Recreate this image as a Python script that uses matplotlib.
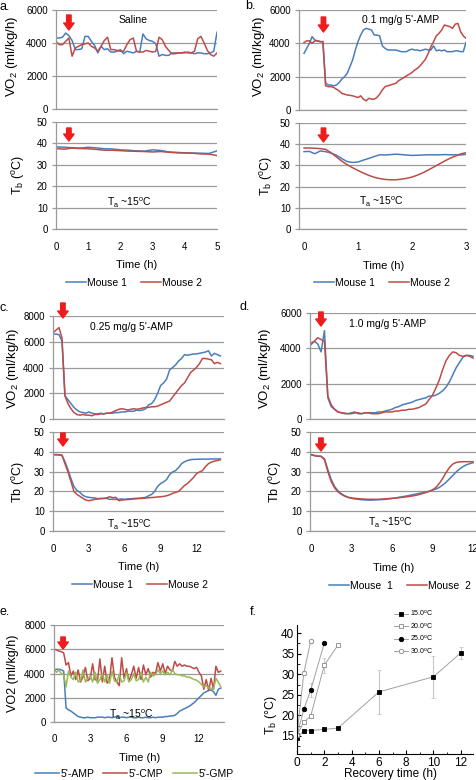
"""Five Excel-style VO2 / Tb traces plus recovery curves (panel f)"""
import numpy as np
import matplotlib
matplotlib.use('Agg')
import matplotlib.pyplot as plt

plt.rcParams['font.family'] = ['Liberation Sans', 'DejaVu Sans']
plt.rcParams['mathtext.default'] = 'regular'

# ---- data ----
# panel a, saline, 0-5 h
a_vo2_m1 = [4300, 4300, 4350, 4600, 4450, 4150, 3600, 3600, 3650, 4400,
            4400, 4100, 3850, 3400, 3800, 3600, 3650, 3450, 3450, 3500,
            3600, 3350, 3500, 3450, 3400, 3500, 3450, 4550, 4250, 4150,
            4100, 3950, 3200, 3300, 3250, 3250, 3400, 3400, 3400, 3400,
            3400, 3450, 3400, 3350, 3400, 3400, 3350, 3350, 3400, 3500, 4650]
a_vo2_m2 = [4100, 3900, 3900, 4100, 4300, 3200, 3700, 3800, 3900, 3950,
            4000, 3800, 3700, 3500, 3800, 4150, 4350, 3600, 3600, 3550,
            3500, 3500, 3900, 4200, 4300, 3500, 3450, 3450, 3550, 3500,
            3450, 3500, 4350, 4200, 3800, 3550, 3350, 3350, 3400, 3400,
            3450, 3400, 3400, 3500, 4250, 4400, 4000, 3550, 3300, 3200, 3400]
a_tb_m1 = [38.4, 38.2, 38.0, 37.8, 38.2, 37.9, 37.5, 37.4, 37.0, 36.8, 36.5,
           36.4, 37.0, 36.7, 36.0, 35.8, 35.6, 35.5, 35.4, 35.3, 36.5]
a_tb_m2 = [37.6, 37.3, 37.8, 37.6, 37.5, 37.2, 36.8, 36.8, 36.6, 36.4, 36.3,
           36.2, 36.0, 36.2, 35.9, 35.6, 35.5, 35.4, 35.1, 35.0, 34.3]

# panel b, 0.1 mg/g, 0-3 h
b_vo2_m1 = [3400, 3700, 4000, 4400, 4200, 4150, 4100, 4100, 1600, 1500,
            1500, 1450, 1500, 1650, 1850, 2000, 2200, 2600, 3000, 3600,
            4100, 4500, 4800, 4900, 4850, 4800, 4500, 4500, 4450, 3850,
            3700, 3600, 3600, 3600, 3600, 3550, 3500, 3500, 3500, 3600,
            3650, 3600, 3600, 3550, 3600, 3650, 3600, 3600, 3850, 3550,
            3600, 3550, 3600, 3500, 3500, 3500, 3550, 3550, 3500, 3500, 4050]
b_vo2_m2 = [4050, 4150, 4150, 4000, 4150, 4150, 4100, 4100, 1450, 1400,
            1400, 1350, 1250, 1150, 1000, 950, 900, 880, 850, 800,
            750, 850, 650, 550, 700, 650, 650, 750, 950, 1200,
            1400, 1450, 1500, 1550, 1600, 1750, 1850, 1950, 2050, 2150,
            2250, 2400, 2500, 2650, 2850, 3050, 3400, 3800, 4100, 4450,
            4600, 4800, 5100, 5050, 5000, 4900, 5150, 5200, 4700, 4450, 4300]
b_tb_m1 = [36.5, 36.6, 35.5, 36.8, 36.5, 35.8, 34.8, 33.2, 31.8, 31.4, 31.6,
           32.5, 33.3, 34.2, 35.0, 34.9, 35.1, 35.3, 35.1, 34.9, 34.7,
           34.8, 34.9, 35.0, 35.0, 35.0, 35.1, 35.0, 35.0, 34.9, 35.2]
b_tb_m2 = [38.2, 38.2, 38.1, 37.9, 37.6, 36.0, 34.0, 32.0, 30.3, 28.9, 27.6,
           26.4, 25.3, 24.4, 23.8, 23.4, 23.2, 23.2, 23.5, 23.9, 24.5,
           25.4, 26.5, 27.8, 29.2, 30.6, 32.0, 33.3, 34.4, 35.4, 36.0]

# panel c, 0.25 mg/g, 0-14 h
c_vo2_m1 = [6600, 6600, 6550, 6050, 1800, 1500, 1200, 900, 700, 550,
            500, 450, 550, 450, 400, 400, 450, 400, 450, 450,
            450, 500, 500, 550, 550, 600, 600, 600, 700, 650,
            700, 800, 1100, 1200, 1500, 2000, 2600, 2800, 3100, 3800,
            4000, 4200, 4500, 4700, 5000, 4950, 5000, 5050, 5050, 5100,
            5150, 5200, 5300, 4900, 5100, 5000, 4900]
c_vo2_m2 = [6700, 6900, 7100, 6300, 1800, 1200, 800, 500, 350, 300,
            350, 300, 300, 250, 350, 350, 400, 400, 450, 450,
            550, 650, 750, 800, 750, 700, 750, 800, 750, 800,
            850, 900, 900, 950, 950, 1000, 1100, 1200, 1300, 1400,
            1700, 2000, 2300, 2600, 2800, 3200, 3600, 3800, 4000, 4300,
            4700, 4700, 4650, 4600, 4300, 4400, 4300]
c_tb_m1 = [38.5, 38.5, 38.4, 38.2, 35.0, 31.0, 26.5, 22.5, 20.5, 19.5,
           18.0, 17.3, 17.0, 16.8, 16.7, 16.3, 16.5, 16.5, 16.4, 16.0,
           16.0, 16.0, 16.0, 16.2, 16.0, 16.2, 16.3, 16.4, 16.5, 16.6,
           16.8, 17.0, 17.8, 18.5, 20.0, 22.5, 24.0, 24.8, 26.0, 28.5,
           29.8, 30.5, 32.0, 34.0, 35.0, 35.6, 36.0, 36.2, 36.2, 36.3,
           36.3, 36.3, 36.3, 36.4, 36.4, 36.4, 36.4]
c_tb_m2 = [38.6, 38.6, 38.5, 38.3, 34.0, 30.0, 25.0, 20.0, 18.5, 17.5,
           16.5, 15.6, 15.3, 15.6, 16.0, 16.2, 16.3, 16.4, 16.8, 17.3,
           16.8, 17.0, 15.3, 15.6, 15.8, 15.9, 16.0, 16.2, 16.3, 16.4,
           16.5, 16.6, 16.8, 16.9, 17.0, 17.2, 17.3, 17.5, 17.8, 18.3,
           19.0, 19.5, 20.0, 21.5, 23.0, 24.0, 25.5, 27.0, 29.0, 29.8,
           30.5, 32.5, 34.0, 34.8, 35.3, 35.6, 36.0]

# panel d, 1.0 mg/g, 0-12 h
d_vo2_m1 = [4200, 4400, 4250, 3800, 5000, 1200, 700, 550, 400, 350,
            300, 300, 350, 400, 300, 300, 350, 350, 350, 350,
            400, 400, 450, 500, 550, 650, 700, 800, 850, 900,
            950, 1050, 1100, 1150, 1200, 1300, 1300, 1350, 1450, 1600,
            1800, 2100, 2500, 2900, 3200, 3500, 3600, 3600, 3550]
d_vo2_m2 = [4300, 4400, 4600, 4500, 4400, 1300, 800, 550, 400, 350,
            330, 300, 300, 350, 350, 300, 350, 350, 300, 300,
            300, 350, 400, 400, 400, 450, 450, 500, 500, 550,
            550, 600, 650, 750, 850, 1100, 1350, 1750, 2200, 2800,
            3300, 3600, 3800, 3750, 3600, 3550, 3600, 3550, 3450]
d_tb_m1 = [38.5, 38.0, 37.8, 37.6, 36.5, 31.0, 26.0, 22.5, 20.3, 18.8,
           17.8, 17.0, 16.5, 16.2, 16.0, 15.8, 15.7, 15.6, 15.6, 15.7,
           15.8, 15.9, 16.0, 16.2, 16.4, 16.7, 17.0, 17.3, 17.6, 17.9,
           18.3, 18.6, 19.0, 19.3, 19.7, 20.1, 20.6, 21.2, 22.0, 23.2,
           24.6, 26.3, 28.0, 29.8, 31.3, 32.5, 33.4, 34.0, 34.5]
d_tb_m2 = [38.6, 38.2, 37.8, 37.8, 36.0, 30.0, 25.0, 21.8, 19.8, 18.5,
           17.6, 17.0, 16.7, 16.5, 16.3, 16.2, 16.1, 16.0, 16.0, 16.0,
           16.0, 16.1, 16.2, 16.4, 16.5, 16.6, 16.8, 17.0, 17.2, 17.4,
           17.7, 18.0, 18.4, 18.9, 19.4, 20.0, 20.8, 22.0, 24.0, 26.5,
           29.5, 32.0, 33.8, 34.6, 34.9, 35.0, 35.0, 35.0, 35.0]

# panel e, nucleotides, 0-13.8 h
e_amp = [4300, 4350, 4350, 4300, 4200, 1150, 1000, 900, 750, 600,
         450, 400, 350, 350, 400, 350, 350, 350, 400, 400,
         400, 350, 400, 400, 350, 400, 450, 350, 400, 400,
         350, 400, 400, 350, 350, 400, 350, 350, 400, 350,
         350, 400, 350, 400, 400, 400, 450, 450, 500, 500,
         550, 700, 900, 1000, 1100, 1200, 1300, 1450, 1600, 1800,
         2000, 2200, 2400, 2500, 2600, 2650, 2500, 2200, 2700, 2800]
e_cmp = [6000, 5950, 5850, 5800, 5700, 4700, 4900, 3800, 4200, 3500,
         4300, 3300, 3700, 4500, 3400, 3600, 4800, 3500, 3400, 5200,
         3300, 4600, 3200, 3500, 5300, 3700, 3300, 3000, 5300, 3600,
         4400, 3400, 3900, 4600, 3600, 4500, 3500, 4700, 3900, 4400,
         3700, 4100, 4000, 4900, 4200, 4800, 4000, 4600, 4300, 4200,
         5000, 4600, 4800, 4600, 4700, 4600, 4600, 4500, 4400, 4500,
         4100, 3800, 2700, 3500, 2600, 3600, 2700, 4600, 4100, 4200]
e_gmp = [4400, 4100, 4300, 4000, 3900, 2900, 4200, 3700, 3500, 4100,
         3300, 3400, 4300, 3300, 3600, 3800, 3300, 4100, 3200, 3500,
         4000, 3300, 3900, 3200, 4200, 3400, 3300, 3900, 3300, 3400,
         4100, 3300, 3500, 4000, 3400, 3500, 4100, 3300, 3700, 3300,
         4100, 3800, 3900, 4300, 4000, 4200, 3900, 4100, 3900, 4300,
         4000, 3900, 3900, 3800, 3800, 3700, 3700, 3600, 3500, 3450,
         3300, 3100, 2900, 3000, 2800, 2800, 2700, 3600, 3300, 2900]

# sampling steps (h) and injection times (h)
step_a_vo2, step_a_tb = 0.1, 0.25
step_b_vo2, step_b_tb = 0.05, 0.1
step_cd, step_e = 0.25, 0.2
inj = {'a': 0.4, 'b': 0.36, 'c': 0.83, 'd': 0.74, 'e': 0.75}

# panel f, recovery after 5'-AMP at different ambient temperatures
f_labels = ['15.0$^o$C', '20.0$^o$C', '25.0$^o$C', '30.0$^o$C']
f_time = [[0, 0.5, 1, 2, 3, 6, 10, 12],
          [0, 0.5, 1, 2, 3],
          [0, 0.5, 1, 2],
          [0, 0.5, 1]]
f_tb = [[14.4, 16.3, 16.3, 16.6, 16.9, 25.7, 29.4, 35.2],
        [15.2, 18.4, 19.8, 32.2, 37.1],
        [15.2, 21.5, 26.1, 37.6],
        [15.2, 30.3, 38.0]]
f_err = [[0.8, 0.3, 0.3, 0.3, 0.3, 5.4, 5.1, 1.5],
         [0.3, 0.4, 0.5, 1.8, 0.3],
         [0.3, 0.4, 1.7, 0.3],
         [0.3, 0.5, 0.3]]

# ---- layout helpers (pixel coordinates of the 477x780 target) ----
W, H = 477, 780
fig = plt.figure(figsize=(W/100, H/100), dpi=100)


def box(x0, y0, x1, y1):
    return [x0/W, 1 - y1/H, (x1 - x0)/W, (y1 - y0)/H]


def ftext(x, y, s, **kw):
    kw.setdefault('ha', 'center')
    kw.setdefault('va', 'center')
    return fig.text(x/W, 1 - y/H, s, **kw)


BLUE, RED, GREEN = '#4a7ebb', '#be4b48', '#98b954'
GRID = '#9a9a9a'
TICK = 7


def excel_axes(rect, xlim, ylim, yticks, xticks=None):
    ax = fig.add_axes(rect)
    ax.set_xlim(*xlim)
    ax.set_ylim(*ylim)
    ax.set_yticks(yticks)
    for s in ('top', 'right'):
        ax.spines[s].set_visible(False)
    for s in ('left', 'bottom'):
        ax.spines[s].set_color(GRID)
        ax.spines[s].set_linewidth(0.9)
    ax.yaxis.grid(True, color=GRID, lw=0.9)
    ax.set_axisbelow(True)
    ax.tick_params(axis='y', length=3, width=0.9, color=GRID,
                   labelsize=TICK, pad=3)
    if xticks is None:
        ax.set_xticks([])
    else:
        ax.set_xticks(xticks)
        ax.tick_params(axis='x', length=0, labelsize=TICK, pad=9)
    return ax


def tvec(vals, step):
    return step * np.arange(len(vals))


def arrow(ax, t, y_tip, y_top):
    # y in figure pixels -> axes fraction
    bb = ax.get_position()
    f0 = ((1 - y_tip/H) - bb.y0) / bb.height
    f1 = ((1 - y_top/H) - bb.y0) / bb.height
    ax.annotate('', xy=(t, f0), xytext=(t, f1),
                xycoords=('data', 'axes fraction'),
                textcoords=('data', 'axes fraction'),
                arrowprops=dict(arrowstyle='simple,head_length=0.5,'
                                'head_width=0.75,tail_width=0.32',
                                color='#ee1c1c', mutation_scale=10,
                                shrinkA=0, shrinkB=0),
                annotation_clip=False)


def mouse_legend(ax, cx, cy):
    ax.legend(loc='center', bbox_to_anchor=(cx/W, 1 - cy/H),
              bbox_transform=fig.transFigure, ncol=2, frameon=False,
              fontsize=7.5, handlelength=1.9, handletextpad=0.15,
              columnspacing=1.3, borderpad=0)


LW = 1.1
VO2_LBL = 'VO$_2$ (ml/kg/h)'
TB_LBL = 'T$_b$ ($^o$C)'
TA = 'T$_a$ ~15$^o$C'

# ---- panel a ----
ax = excel_axes(box(56, 10, 217, 109), (0, 5), (0, 6000), [0, 2000, 4000, 6000])
ax.plot(tvec(a_vo2_m1, step_a_vo2), a_vo2_m1, color=BLUE, lw=LW)
ax.plot(tvec(a_vo2_m2, step_a_vo2), a_vo2_m2, color=RED, lw=LW)
arrow(ax, inj['a'], 30, 15)
ax = excel_axes(box(56, 122, 217, 229), (0, 5), (0, 50), range(0, 51, 10),
                xticks=range(0, 6))
ax.plot(tvec(a_tb_m1, step_a_tb), a_tb_m1, color=BLUE, lw=LW, label='Mouse 1')
ax.plot(tvec(a_tb_m2, step_a_tb), a_tb_m2, color=RED, lw=LW, label='Mouse 2')
arrow(ax, inj['a'], 141, 128)
mouse_legend(ax, 134, 283)
ftext(0, 7, 'a.', ha='left', fontsize=9)
ftext(133, 20, 'Saline', fontsize=7.5)
ftext(129, 203, TA, fontsize=7.5)
ftext(12, 56, VO2_LBL, rotation=90, fontsize=9.5)
ftext(19, 175, TB_LBL, rotation=90, fontsize=9)
ftext(137, 265, 'Time (h)', fontsize=8)

# ---- panel b ----
ax = excel_axes(box(299, 10, 466, 110), (-0.093, 3.0), (0, 6000),
                [0, 2000, 4000, 6000])
ax.plot(tvec(b_vo2_m1, step_b_vo2), b_vo2_m1, color=BLUE, lw=LW)
ax.plot(tvec(b_vo2_m2, step_b_vo2), b_vo2_m2, color=RED, lw=LW)
arrow(ax, inj['b'], 32, 17)
ax = excel_axes(box(299, 123, 466, 229), (-0.093, 3.0), (0, 50),
                range(0, 51, 10), xticks=range(0, 4))
ax.plot(tvec(b_tb_m1, step_b_tb), b_tb_m1, color=BLUE, lw=LW, label='Mouse 1')
ax.plot(tvec(b_tb_m2, step_b_tb), b_tb_m2, color=RED, lw=LW, label='Mouse 2')
arrow(ax, inj['b'], 142, 128)
mouse_legend(ax, 382, 283)
ftext(245, 6, 'b.', ha='left', fontsize=9)
ftext(401, 20, "0.1 mg/g 5'-AMP", fontsize=7.5)
ftext(381, 202, TA, fontsize=7.5)
ftext(259, 56, VO2_LBL, rotation=90, fontsize=9.5)
ftext(267, 176, TB_LBL, rotation=90, fontsize=9)
ftext(384, 266, 'Time (h)', fontsize=8)

# ---- panel c ----
ax = excel_axes(box(53, 316, 224, 419), (0, 14.3), (0, 8000),
                range(0, 8001, 2000))
ax.plot(tvec(c_vo2_m1, step_cd), c_vo2_m1, color=BLUE, lw=LW)
ax.plot(tvec(c_vo2_m2, step_cd), c_vo2_m2, color=RED, lw=LW)
arrow(ax, inj['c'], 318, 303)
ax = excel_axes(box(53, 432, 224, 531), (0, 14.3), (0, 50), range(0, 51, 10),
                xticks=range(0, 13, 3))
ax.plot(tvec(c_tb_m1, step_cd), c_tb_m1, color=BLUE, lw=LW, label='Mouse 1')
ax.plot(tvec(c_tb_m2, step_cd), c_tb_m2, color=RED, lw=LW, label='Mouse 2')
arrow(ax, inj['c'], 446, 433)
mouse_legend(ax, 140, 585)
ftext(0, 308, 'c.', ha='left', fontsize=9)
ftext(131, 327, "0.25 mg/g 5'-AMP", fontsize=7.5)
ftext(129, 525, TA, fontsize=7.5)
ftext(13, 368, VO2_LBL, rotation=90, fontsize=9.5)
ftext(19, 482, 'Tb ($^o$C)', rotation=90, fontsize=9)
ftext(139, 567, 'Time (h)', fontsize=8)

# ---- panel d ----
ax = excel_axes(box(310, 313, 476, 419), (-0.07, 12.22), (0, 6000),
                [0, 2000, 4000, 6000])
ax.plot(tvec(d_vo2_m1, step_cd), d_vo2_m1, color=BLUE, lw=LW)
ax.plot(tvec(d_vo2_m2, step_cd), d_vo2_m2, color=RED, lw=LW)
arrow(ax, inj['d'], 326, 312)
ax = excel_axes(box(310, 432, 476, 531), (-0.07, 12.22), (0, 50),
                range(0, 51, 10), xticks=range(0, 13, 3))
ax.plot(tvec(d_tb_m1, step_cd), d_tb_m1, color=BLUE, lw=LW,
        label='Mouse  1')
ax.plot(tvec(d_tb_m2, step_cd), d_tb_m2, color=RED, lw=LW,
        label='Mouse  2')
arrow(ax, inj['d'], 451, 438)
mouse_legend(ax, 400, 586)
ftext(240, 307, 'd.', ha='left', fontsize=9)
ftext(388, 324, "1.0 mg/g 5'-AMP", fontsize=7.5)
ftext(390, 523, TA, fontsize=7.5)
ftext(265, 368, VO2_LBL, rotation=90, fontsize=9.5)
ftext(276, 482, 'Tb ($^o$C)', rotation=90, fontsize=9)
ftext(394, 568, 'Time (h)', fontsize=8)

# ---- panel e ----
ax = excel_axes(box(54, 625, 224, 722), (0, 14.07), (0, 8000),
                range(0, 8001, 2000), xticks=range(0, 13, 3))
ax.plot(tvec(e_amp, step_e), e_amp, color=BLUE, lw=LW, label="5'-AMP")
ax.plot(tvec(e_cmp, step_e), e_cmp, color=RED, lw=LW, label="5'-CMP")
ax.plot(tvec(e_gmp, step_e), e_gmp, color=GREEN, lw=LW, label="5'-GMP")
arrow(ax, inj['e'], 649, 637)
ax.legend(loc='center', bbox_to_anchor=(134/W, 1 - 774/H),
          bbox_transform=fig.transFigure, ncol=3, frameon=False,
          fontsize=7.5, handlelength=2.3, handletextpad=0.15,
          columnspacing=0.9, borderpad=0)
ftext(0, 612, 'e.', ha='left', fontsize=9)
ftext(131, 715, TA, fontsize=7.5)
ftext(13, 673, 'VO2 (ml/kg/h)', rotation=90, fontsize=9)
ftext(140, 758, 'Time (h)', fontsize=8)

# ---- panel f ----
ax = fig.add_axes(box(297, 625, 473, 754))
styles = [dict(marker='s', mfc='k', mec='k'),
          dict(marker='s', mfc='white', mec='#888888'),
          dict(marker='o', mfc='k', mec='k'),
          dict(marker='o', mfc='white', mec='#888888')]
for t, tb, err, lbl, st in zip(f_time, f_tb, f_err, f_labels, styles):
    ax.errorbar(t, tb, yerr=err, color='#a0a0a0', lw=0.7, ms=3.2, mew=0.6,
                ecolor='#c8c8c8', elinewidth=0.8, capsize=1.5, label=lbl,
                **st)
ax.set_xlim(0, 12.9)
ax.set_ylim(10.6, 42)
ax.set_xticks(range(0, 13, 2))
ax.set_yticks(range(15, 41, 5))
ax.set_xticks(np.arange(1, 13, 2), minor=True)
ax.set_yticks(np.arange(12.5, 41, 5), minor=True)
for s in ('top', 'right'):
    ax.spines[s].set_visible(False)
for s in ('left', 'bottom'):
    ax.spines[s].set_linewidth(0.8)
ax.tick_params(which='both', direction='in', labelsize=8.5, pad=2)
ax.tick_params(which='major', length=3)
ax.tick_params(which='minor', length=1.8)
handles, labels = ax.get_legend_handles_labels()
handles = [h[0] for h in handles]
ax.legend(handles, labels, loc='upper left',
          bbox_to_anchor=(391/W, 1 - 605/H), bbox_transform=fig.transFigure,
          frameon=False, fontsize=5, handlelength=1.9, handletextpad=0.3,
          labelspacing=0.35, borderpad=0)
ftext(250, 612, 'f.', ha='left', fontsize=9)
ftext(271, 715, 'T$_b$ (°C)', rotation=90, fontsize=9)
ftext(391, 774, 'Recovery time (h)', fontsize=8.5)

fig.savefig('out.png', dpi=100)
